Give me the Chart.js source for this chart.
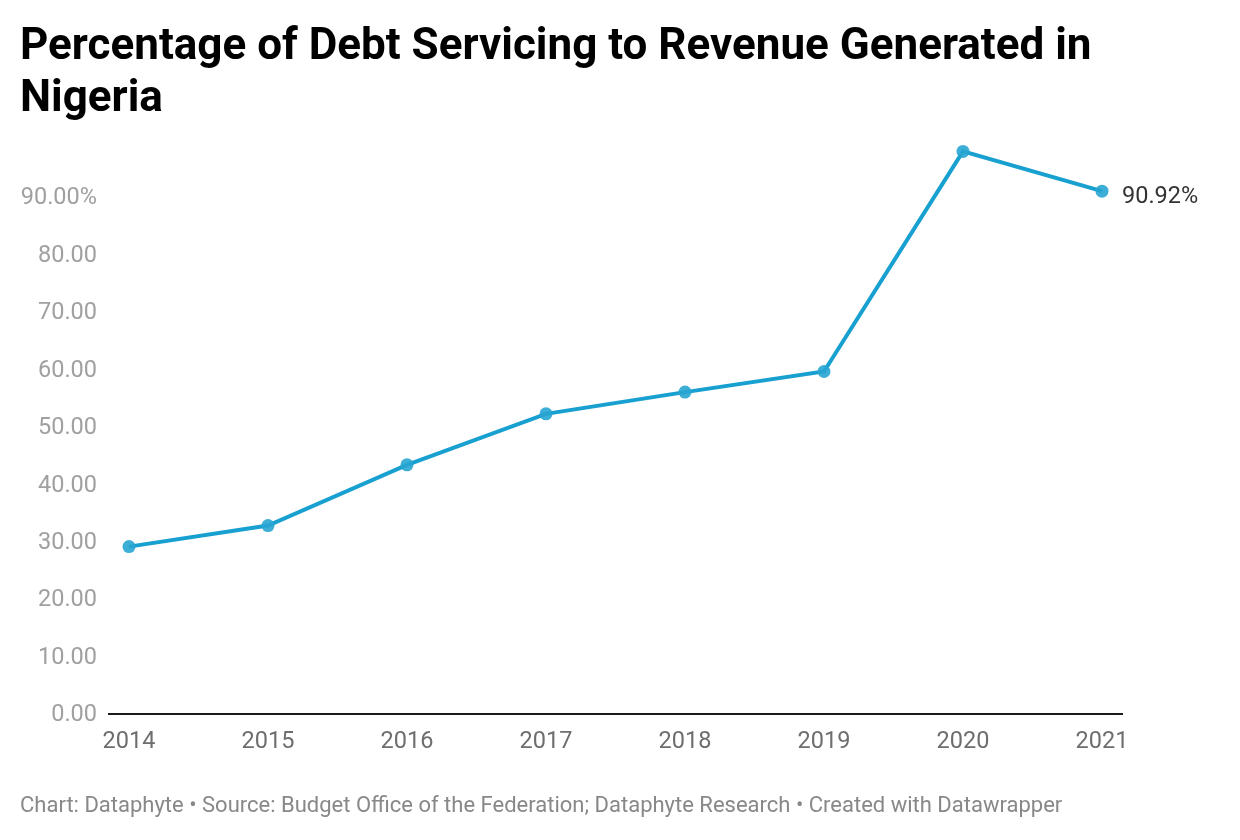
<!DOCTYPE html>
<html>
<head>
<meta charset="utf-8">
<script src="https://cdn.jsdelivr.net/npm/chart.js@4"></script>
<style>
  body { margin: 0; background: #fff; font-family: Roboto, sans-serif; }
  #wrap { position: relative; width: 1240px; height: 840px; }
  #title { position: absolute; left: 20px; top: 18px; width: 1150px; font-weight: 700; font-size: 44px; line-height: 52px; color: #000; }
  #foot { position: absolute; left: 20px; top: 792px; font-size: 22px; color: #888; white-space: nowrap; }
  canvas { position: absolute; left: 0; top: 0; }
</style>
</head>
<body>
<div id="wrap">
  <canvas id="lineChart" width="1240" height="840"></canvas>
  <div id="title">Percentage of Debt Servicing to Revenue Generated in Nigeria</div>
  <div id="foot">Chart: Dataphyte • Source: Budget Office of the Federation; Dataphyte Research • Created with Datawrapper</div>
</div>
<script>
const years = [2014, 2015, 2016, 2017, 2018, 2019, 2020, 2021];
const debtToRevenue = [29.05, 32.71, 43.28, 52.16, 55.94, 59.53, 97.84, 90.92];
const yTicks = [0, 10, 20, 30, 40, 50, 60, 70, 80, 90];

const lineColor = 'rgb(24, 160, 208)';

// label next to the last point
const endLabel = {
    id: 'endLabel',
    afterDatasetsDraw(chart) {
        const meta = chart.getDatasetMeta(0);
        const last = meta.data[meta.data.length - 1];
        const v = debtToRevenue[debtToRevenue.length - 1];
        const ctx = chart.ctx;
        ctx.save();
        ctx.font = '23.5px Roboto';
        ctx.fillStyle = '#333';
        ctx.textAlign = 'left';
        ctx.textBaseline = 'middle';
        ctx.fillText(v.toFixed(2) + '%', last.x + 20, last.y + 6);
        ctx.restore();
    }
};

const ctx = document.getElementById('lineChart').getContext('2d');

let chart = new Chart(ctx, {
    type: 'line',
    data: {
        datasets: [{
            data: years.map((y, i) => ({ x: y, y: debtToRevenue[i] })),
            borderColor: lineColor,
            backgroundColor: 'rgba(40, 165, 210, 0.9)',
            borderWidth: 4,
            pointRadius: 6.5,
            pointHoverRadius: 6.5,
            pointBorderWidth: 0,
            tension: 0
        }]
    },
    options: {
        responsive: false,
        animation: false,
        layout: { padding: { top: 139, right: 118, bottom: 0, left: 0 } },
        plugins: { legend: { display: false }, tooltip: { enabled: false } },
        scales: {
            x: {
                type: 'linear',
                min: 2013.856,
                max: 2021.144,
                grid: { display: false, drawTicks: false },
                border: { display: true, color: '#1a1a1a', width: 2 },
                afterBuildTicks: axis => { axis.ticks = years.map(v => ({ value: v })); },
                afterFit: axis => { axis.height = 126.5; },
                ticks: {
                    autoSkip: false,
                    maxRotation: 0,
                    padding: 15,
                    color: '#6e6e6e',
                    font: { family: 'Roboto', size: 23.5 },
                    callback: v => String(v)
                }
            },
            y: {
                min: 0,
                max: 100,
                grid: { display: false, drawTicks: false },
                border: { display: false },
                afterBuildTicks: axis => { axis.ticks = yTicks.map(v => ({ value: v })); },
                afterFit: axis => { axis.width = 109; },
                ticks: {
                    padding: 12,
                    labelOffset: 2,
                    color: '#a0a0a0',
                    font: { family: 'Roboto', size: 23.5 },
                    callback: v => v === 90 ? '90.00%' : v.toFixed(2)
                }
            }
        }
    },
    plugins: [endLabel]
});
</script>
</body>
</html>
